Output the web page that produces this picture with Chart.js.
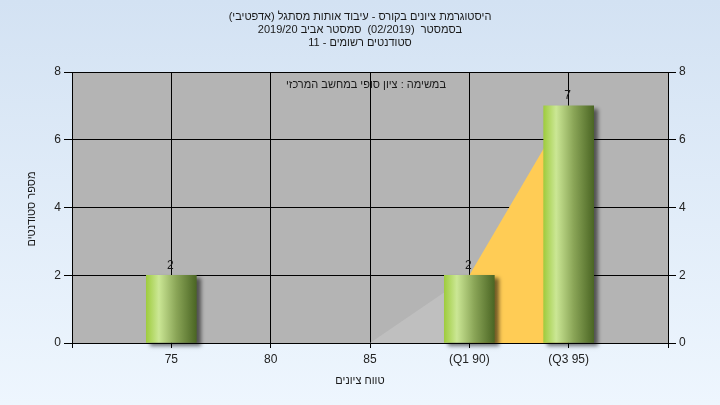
<!DOCTYPE html>
<html>
<head>
<meta charset="utf-8">
<script src="https://cdn.jsdelivr.net/npm/chart.js@4/dist/chart.umd.min.js"></script>
<style>
  html, body { margin: 0; padding: 0; }
  #wrap { width: 720px; height: 405px; }
</style>
</head>
<body>
<div id="wrap"><canvas id="myChart" width="720" height="405"></canvas></div>
<script>
const titleLines = [
    'היסטוגרמת ציונים בקורס - עיבוד אותות מסתגל (אדפטיבי)',
    'בסמסטר  (02/2019)  סמסטר אביב 2019/20',
    'סטודנטים רשומים - 11'
];
const subTitle = 'במשימה : ציון סופי במחשב המרכזי';
const xTitle = 'טווח ציונים';
const yTitle = 'מספר סטודנטים';

const scores = [75, 80, 85, 90, 95];
const students = [2, 0, 0, 2, 7];
const tickLabels = ['75', '80', '85', '(Q1 90)', '(Q3 95)'];
const lowerRange = [85, 90];   // grey band
const quartileRange = [90, 95]; // Q1 - Q3 band

const FONT = '"Liberation Sans", "DejaVu Sans", Arial, sans-serif';

function pointsIn(range) {
    return scores
        .map((s, i) => ({ x: s, y: students[i] }))
        .filter(p => p.x >= range[0] && p.x <= range[1]);
}

function barGradient(c) {
    const chart = c.chart;
    if (!c.raw || c.raw.y === 0) return 'rgba(0,0,0,0)';
    if (!chart.chartArea) return '#a4d044';
    const x = chart.scales.x.getPixelForValue(c.raw.x);
    const g = chart.ctx.createLinearGradient(x - 25, 0, x + 25, 0);
    g.addColorStop(0, '#9fcc3f');
    g.addColorStop(0.25, '#cbe795');
    g.addColorStop(0.6, '#8aa557');
    g.addColorStop(1, '#4b6624');
    return g;
}

const decor = {
    id: 'decor',
    beforeDraw(chart) {
        const { ctx, width, height, chartArea } = chart;
        ctx.save();
        const bg = ctx.createLinearGradient(0, 0, 0, height);
        bg.addColorStop(0, '#d3e2f3');
        bg.addColorStop(1, '#eef6fe');
        ctx.fillStyle = bg;
        ctx.fillRect(0, 0, width, height);
        ctx.fillStyle = '#b4b4b4';
        ctx.fillRect(chartArea.left, chartArea.top, chartArea.right - chartArea.left, chartArea.bottom - chartArea.top);
        ctx.restore();
    },
    beforeDatasetDraw(chart, args) {
        if (args.meta.type === 'bar') {
            const ctx = chart.ctx;
            ctx.save();
            ctx.shadowColor = 'rgba(0,0,0,0.55)';
            ctx.shadowOffsetX = 4;
            ctx.shadowOffsetY = 3;
            ctx.shadowBlur = 4;
        }
    },
    afterDatasetDraw(chart, args) {
        if (args.meta.type === 'bar') chart.ctx.restore();
    },
    afterDraw(chart) {
        const { ctx } = chart;
        ctx.save();
        ctx.fillStyle = '#1a1a1a';
        ctx.textAlign = 'center';
        ctx.textBaseline = 'middle';
        ctx.font = '11px ' + FONT;
        titleLines.forEach((t, i) => ctx.fillText(t, 360, 17 + i * 13));
        ctx.fillText(subTitle, 366, 85);
        ctx.fillText(xTitle, 360, 381);
        ctx.save();
        ctx.translate(32, 209);
        ctx.rotate(-Math.PI / 2);
        ctx.fillText(yTitle, 0, 0);
        ctx.restore();
        // value labels
        ctx.font = '12px ' + FONT;
        const meta = chart.getDatasetMeta(0);
        meta.data.forEach((bar, i) => {
            if (students[i] > 0) ctx.fillText(String(students[i]), bar.x - 1, bar.y - 10);
        });
        ctx.restore();
    }
};

const ctx = document.getElementById('myChart').getContext('2d');

const myChart = new Chart(ctx, {
    type: 'bar',
    data: {
        datasets: [{
            type: 'bar',
            data: scores.map((s, i) => ({ x: s, y: students[i] })),
            backgroundColor: barGradient,
            borderWidth: 0,
            barThickness: 50,
            order: 0,
            clip: false
        }, {
            type: 'line',
            data: pointsIn(lowerRange),
            backgroundColor: '#bfbfbf',
            borderWidth: 0,
            pointRadius: 0,
            fill: 'origin',
            tension: 0,
            order: 1
        }, {
            type: 'line',
            data: pointsIn(quartileRange),
            backgroundColor: '#ffcc55',
            borderWidth: 0,
            pointRadius: 0,
            fill: 'origin',
            tension: 0,
            order: 1
        }]
    },
    plugins: [decor],
    options: {
        responsive: false,
        animation: false,
        layout: { padding: { top: 72, left: 0, right: 0, bottom: 0 } },
        plugins: {
            legend: { display: false },
            tooltip: { enabled: false },
            title: { display: false }
        },
        scales: {
            x: {
                type: 'linear',
                offset: false,
                min: 70,
                max: 100,
                afterFit(scale) { scale.height = 62; },
                ticks: {
                    stepSize: 5,
                    autoSkip: false,
                    maxRotation: 0,
                    padding: 4,
                    color: '#222',
                    font: { family: FONT, size: 12 },
                    callback(v) {
                        const i = scores.indexOf(v);
                        return i >= 0 ? tickLabels[i] : '';
                    }
                },
                grid: { offset: false, color: '#000', lineWidth: 1, tickLength: 5, tickColor: '#000' },
                border: { color: '#000', width: 1 }
            },
            y: {
                position: 'left',
                min: 0,
                max: 8,
                afterFit(scale) { scale.width = 72; },
                ticks: {
                    stepSize: 2,
                    padding: 3,
                    color: '#222',
                    font: { family: FONT, size: 12 }
                },
                grid: { color: '#000', lineWidth: 1, tickLength: 8, tickColor: '#000' },
                border: { color: '#000', width: 1 }
            },
            y2: {
                position: 'right',
                min: 0,
                max: 8,
                afterFit(scale) { scale.width = 52; },
                ticks: {
                    stepSize: 2,
                    padding: 3,
                    color: '#222',
                    font: { family: FONT, size: 12 }
                },
                grid: { drawOnChartArea: false, tickLength: 8, tickColor: '#000' },
                border: { color: '#000', width: 1 }
            }
        }
    }
});
</script>
</body>
</html>
